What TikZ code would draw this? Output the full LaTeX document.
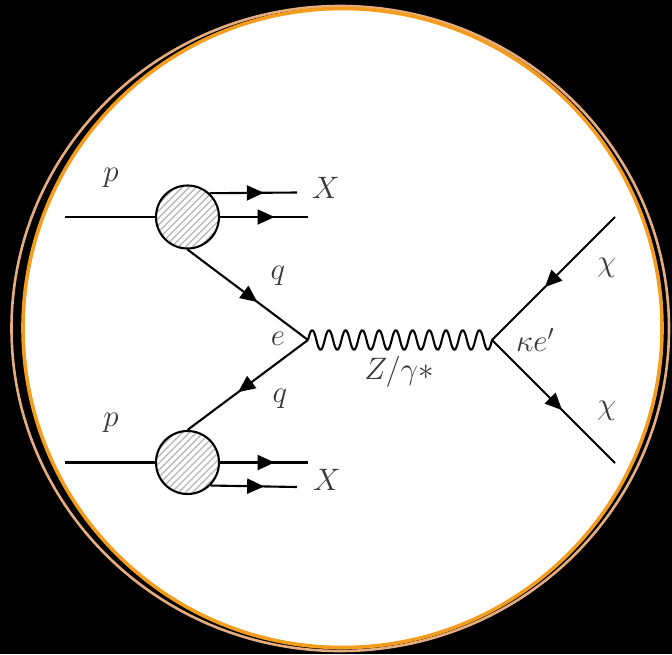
\documentclass[tikz,border=0pt]{standalone}
\usepackage{fix-cm}
\usetikzlibrary{arrows.meta,decorations.markings}
\definecolor{ringorange}{HTML}{F39C1E}
\definecolor{ringtan}{HTML}{E6AE80}
\definecolor{labelgray}{HTML}{383838}
\definecolor{hatchgray}{HTML}{B4B4B4}
\begin{document}
\begin{tikzpicture}[x=1pt,y=-1pt,
  line/.style={line width=2.1pt, black},
  arrowat/.style={postaction={decorate}, decoration={markings,
      mark=at position #1 with {\arrow{Triangle[length=17pt,width=15pt]}}}},
  photon/.style={line width=2.1pt, black, line join=round},
  lab/.style={inner sep=0pt, text=labelgray, font=\fontsize{31}{36}\selectfont},
  blob/.style={circle, draw, line width=2.1pt, minimum size=63pt, inner sep=0pt,
      fill=white,
      path picture={\foreach \i in {-9,...,9}
        \draw[hatchgray, line width=1.3pt]
          ([shift={(\i*7-45,45)}]path picture bounding box.center) -- ++(90,-90);}}
]
\fill[black] (0,0) rectangle (672,654);
\useasboundingbox (0,0) rectangle (672,654);
\draw[ringtan, line width=2.6pt] (340.25,328.5) ellipse [x radius=328.75, y radius=322.5];
\draw[ringorange, line width=3.6pt, fill=white] (342.5,328) circle [radius=319.5];

% blobs and vertices
\node[blob] (b1) at (187.5,217) {};
\node[blob] (b2) at (187.5,462.5) {};
\coordinate (v1) at (308,340);
\coordinate (v2) at (492,340);
\coordinate (pin1) at (65,217);
\coordinate (pin2) at (65,462.5);
\coordinate (x1a) at (297,192.5);
\coordinate (x1b) at (308,217);
\coordinate (x2a) at (308,462.5);
\coordinate (x2b) at (297,487);
\coordinate (c1) at (615,217);
\coordinate (c2) at (615,463);

% proton lines
\draw[line] (pin1) -- (b1.west);
\draw[line] (pin2) -- (b2.west);
% remnants
\draw[line, arrowat=0.62] (b1.47) -- (x1a);
\draw[line, arrowat=0.62] (b1.east) -- (x1b);
\draw[line, arrowat=0.62] (b2.east) -- (x2a);
\draw[line, arrowat=0.62] (b2.-45) -- (x2b);
% quarks
\draw[line, arrowat=0.58] (b1.south) -- (v1);
\draw[line, arrowat=0.58] (v1) -- (b2.north);
% boson (11 periods from v1 to v2)
\draw[photon] (v1) \foreach \k in {1,...,11} {
   .. controls +(3,-13) and +(-3,-13) .. ++(8.3636,0)
   .. controls +(3,13) and +(-3,13) .. ++(8.3636,0) } -- (v2);
% chi lines
\draw[line, arrowat=0.57] (c1) -- (v2);
\draw[line, arrowat=0.57] (v2) -- (c2);

% labels
\node[lab] (lp1) at (111,178) {$p$};
\node[lab] (lp2) at (111,423) {$p$};
\node[lab] (lx1) at (326,188) {$X$};
\node[lab] (lx2) at (327,480) {$X$};
\node[lab] (lq1) at (278,276) {$q$};
\node[lab] (lq2) at (280,399) {$q$};
\node[lab] (le) at (278,339) {$e$};
\node[lab] (lz) at (399,372) {$Z/\gamma *$};
\node[lab] (lk) at (535,340) {$\kappa e'$};
\node[lab] (lc1) at (607,268) {$\chi$};
\node[lab] (lc2) at (607,411) {$\chi$};
\end{tikzpicture}
\end{document}
